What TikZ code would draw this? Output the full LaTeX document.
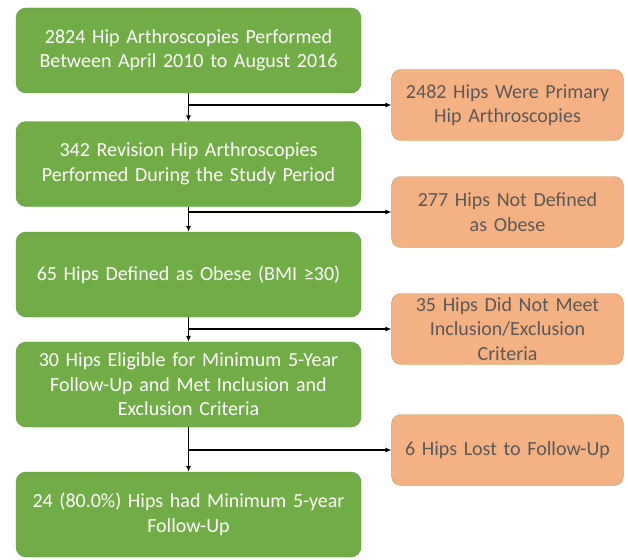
\documentclass[tikz,border=0pt]{standalone}
\usepackage{fontspec}
\setmainfont{Carlito}
\usetikzlibrary{arrows.meta}
\definecolor{boxgreen}{HTML}{70AD47}
\definecolor{greenline}{HTML}{5E9A3A}
\definecolor{boxorange}{HTML}{F4B183}
\definecolor{orangeline}{HTML}{B9A46E}
\definecolor{orangetext}{HTML}{595959}
\tikzset{
  stage/.style={draw=greenline,fill=boxgreen,rounded corners=10pt,text=white,
    minimum width=345pt,minimum height=85pt,text width=335pt,align=center,
    font=\fontsize{20}{24.5}\selectfont},
  excluded/.style={draw=orangeline,fill=boxorange,rounded corners=9pt,text=orangetext,
    minimum width=231pt,minimum height=71pt,text width=225pt,align=center,
    font=\fontsize{20}{24.5}\selectfont},
  flow/.style={-{Latex[length=6pt,width=5pt]},line width=1.1pt,black}
}
\begin{document}
\begin{tikzpicture}[x=1pt,y=-1pt]
    \useasboundingbox (0,0) rectangle (628,559);
    % main stages (left column)
    \node[stage] (all) at (188.5,50.5) {2824 Hip Arthroscopies Performed\\Between April 2010 to August 2016};
    \node[stage] (revision) at (188.5,164) {342 Revision Hip Arthroscopies\\Performed During the Study Period};
    \node[stage] (obese) at (188.5,274.5) {65 Hips Defined as Obese (BMI ≥30)};
    \node[stage] (eligible) at (188.5,384.5) {30 Hips Eligible for Minimum 5-Year\\Follow-Up and Met Inclusion and\\Exclusion Criteria};
    \node[stage] (followup) at (188.5,514.5) {24 (80.0\%) Hips had Minimum 5-year\\Follow-Up};

    % excluded hips (right column)
    \node[excluded] (primary) at (507.5,105) {2482 Hips Were Primary\\Hip Arthroscopies};
    \node[excluded] (notobese) at (507.5,212) {277 Hips Not Defined\\as Obese};
    \node[excluded] (notmet) at (507.5,329) {35 Hips Did Not Meet\\Inclusion/Exclusion\\Criteria};
    \node[excluded] (lost) at (507.5,450) {6 Hips Lost to Follow-Up};

    % connectors
    \draw[flow] (all) -- (revision);
    \draw[flow] (all.south |- primary.west) -- (primary.west);
    \draw[flow] (revision) -- (obese);
    \draw[flow] (revision.south |- notobese.west) -- (notobese.west);
    \draw[flow] (obese) -- (eligible);
    \draw[flow] (obese.south |- notmet.west) -- (notmet.west);
    \draw[flow] (eligible) -- (followup);
    \draw[flow] (eligible.south |- lost.west) -- (lost.west);
\end{tikzpicture}
\end{document}
